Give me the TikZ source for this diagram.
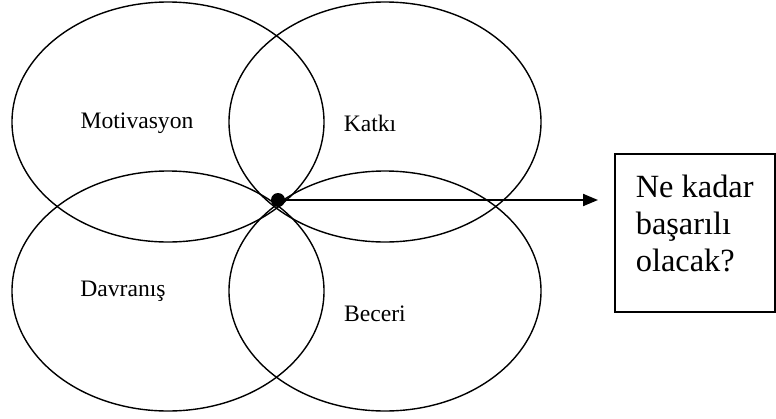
\documentclass[tikz,border=0pt]{standalone}
\usepackage{fontspec}
\setmainfont{Liberation Serif}
\usetikzlibrary{shapes.geometric,arrows.meta}

\begin{document}
\begin{tikzpicture}[
    x=0.5pt, y=-0.5pt,
    oval/.style={
        draw=black,
        line width=0.7pt,
        ellipse,
        inner sep=0pt,
        minimum width=156pt,
        minimum height=120pt
    },
    lbl/.style={font=\fontsize{11.8}{14}\selectfont, inner sep=0pt},
    answer/.style={
        draw=black,
        line width=0.8pt,
        inner xsep=10.5pt,
        inner ysep=0pt,
        anchor=north west
    },
    arr/.style={-{Triangle[length=7.5pt,width=6pt]}, line width=1pt}
]
    \useasboundingbox (0,0) rectangle (776,418);

    \node[oval] (mot) at (168,122) {};
    \node[oval] (kat) at (385,122) {};
    \node[oval] (dav) at (168,291) {};
    \node[oval] (bec) at (385,291) {};

    \node[lbl] (motl) at (137,123) {Motivasyon};
    \node[lbl] (katl) at (370,123) {Katkı};
    \node[lbl] (davl) at (123,291) {Davranış};
    \node[lbl] (becl) at (375,314) {Beceri};

    \node[circle, fill=black, inner sep=0pt, minimum size=7pt] (dot) at (278,200) {};

    \node[answer] (soru) at (614,153)
        {\parbox[c][79.2pt][t]{59pt}{\fontsize{16.2}{18.5}\selectfont
         \vspace*{10.5pt}Ne kadar\\başarılı\\olacak?}};

    \draw[arr] (dot.center) -- (598,200);
\end{tikzpicture}
\end{document}
